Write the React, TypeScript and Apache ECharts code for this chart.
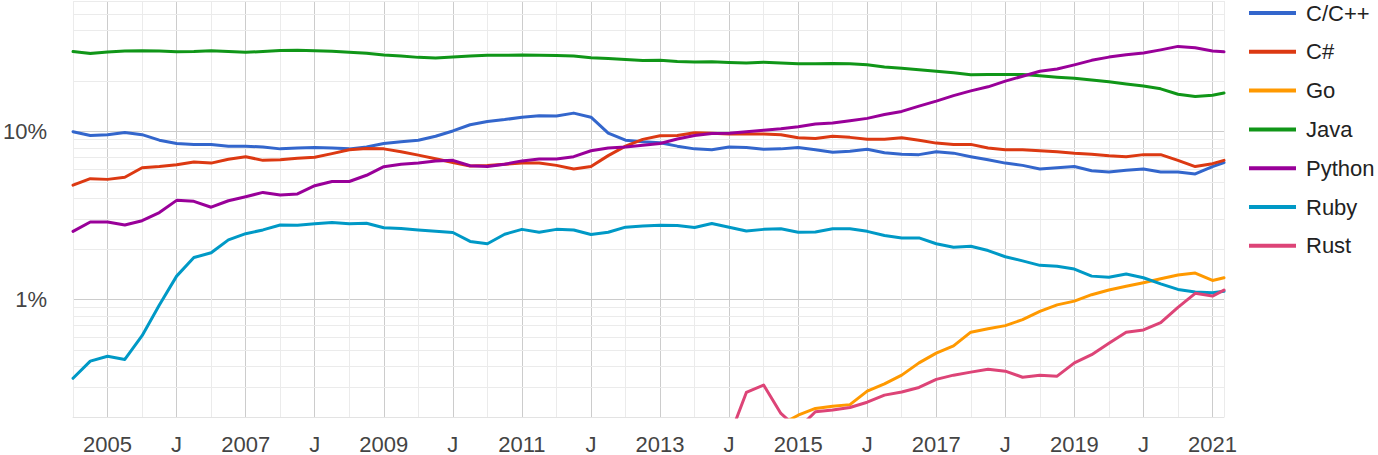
import React, { useEffect, useRef } from "react";
import * as echarts from "echarts";

// Quarterly sample dates (YYYY-MM), last point is March 2021
const months = [
  "2004-07", "2004-10",
  "2005-01", "2005-04", "2005-07", "2005-10",
  "2006-01", "2006-04", "2006-07", "2006-10",
  "2007-01", "2007-04", "2007-07", "2007-10",
  "2008-01", "2008-04", "2008-07", "2008-10",
  "2009-01", "2009-04", "2009-07", "2009-10",
  "2010-01", "2010-04", "2010-07", "2010-10",
  "2011-01", "2011-04", "2011-07", "2011-10",
  "2012-01", "2012-04", "2012-07", "2012-10",
  "2013-01", "2013-04", "2013-07", "2013-10",
  "2014-01", "2014-04", "2014-07", "2014-10",
  "2015-01", "2015-04", "2015-07", "2015-10",
  "2016-01", "2016-04", "2016-07", "2016-10",
  "2017-01", "2017-04", "2017-07", "2017-10",
  "2018-01", "2018-04", "2018-07", "2018-10",
  "2019-01", "2019-04", "2019-07", "2019-10",
  "2020-01", "2020-04", "2020-07", "2020-10",
  "2021-01", "2021-03",
];

const cpp = [
  10.0, 9.5, 9.6, 9.9, 9.6, 8.9, 8.5, 8.4, 8.4, 8.2,
  8.2, 8.1, 7.9, 8.0, 8.05, 8.0, 7.9, 8.1, 8.5, 8.7,
  8.9, 9.4, 10.1, 11.0, 11.5, 11.8, 12.2, 12.45, 12.4, 12.9,
  12.2, 9.8, 8.9, 8.7, 8.6, 8.2, 7.9, 7.8, 8.1, 8.05,
  7.85, 7.9, 8.05, 7.8, 7.55, 7.65, 7.85, 7.5, 7.35, 7.3,
  7.6, 7.45, 7.1, 6.8, 6.5, 6.3, 6.0, 6.1, 6.2, 5.85,
  5.75, 5.9, 6.0, 5.75, 5.75, 5.6, 6.2, 6.55,
];

const csharp = [
  4.8, 5.25, 5.2, 5.35, 6.1, 6.2, 6.35, 6.6, 6.5, 6.85,
  7.1, 6.75, 6.8, 6.95, 7.05, 7.4, 7.8, 7.95, 7.9, 7.6,
  7.25, 6.9, 6.55, 6.25, 6.3, 6.4, 6.5, 6.5, 6.3, 6.0,
  6.2, 7.2, 8.2, 9.0, 9.45, 9.5, 9.85, 9.8, 9.7, 9.7,
  9.7, 9.6, 9.2, 9.1, 9.4, 9.25, 9.0, 9.0, 9.2, 8.9,
  8.55, 8.4, 8.4, 8.0, 7.8, 7.8, 7.7, 7.6, 7.45, 7.35,
  7.2, 7.1, 7.3, 7.3, 6.75, 6.2, 6.45, 6.75,
];

const go = [
  null, null, null, null, null, null, null, null, null, null,
  null, null, null, null, null, null, null, null, null, null,
  null, null, null, null, null, null, null, null, null, null,
  null, null, null, null, null, null, null, null, null, null,
  null, 0.18, 0.205, 0.225, 0.232, 0.237, 0.285, 0.315, 0.355, 0.42,
  0.48, 0.53, 0.64, 0.67, 0.7, 0.76, 0.85, 0.93, 0.98, 1.07,
  1.14, 1.2, 1.26, 1.33, 1.4, 1.44, 1.3, 1.35,
];

const java = [
  30.0, 29.2, 29.8, 30.2, 30.3, 30.2, 29.9, 30.0, 30.3, 30.0,
  29.7, 30.0, 30.4, 30.5, 30.3, 30.1, 29.7, 29.3, 28.6, 28.2,
  27.7, 27.5, 27.8, 28.2, 28.5, 28.5, 28.6, 28.5, 28.4, 28.2,
  27.6, 27.3, 26.9, 26.5, 26.6, 26.2, 26.0, 26.1, 25.8, 25.6,
  25.9, 25.6, 25.4, 25.4, 25.5, 25.4, 25.0, 24.3, 23.9, 23.4,
  22.9, 22.4, 21.8, 21.9, 21.9, 21.9, 21.5, 21.1, 20.8, 20.3,
  19.8, 19.2, 18.7, 18.0, 16.7, 16.2, 16.5, 17.0,
];

const python = [
  2.55, 2.9, 2.9, 2.78, 2.95, 3.3, 3.9, 3.85, 3.55, 3.88,
  4.1, 4.35, 4.2, 4.26, 4.77, 5.05, 5.05, 5.5, 6.19, 6.4,
  6.5, 6.7, 6.75, 6.27, 6.2, 6.4, 6.7, 6.87, 6.87, 7.1,
  7.7, 8.0, 8.1, 8.3, 8.5, 9.05, 9.5, 9.75, 9.8, 10.0,
  10.2, 10.4, 10.7, 11.1, 11.25, 11.6, 12.0, 12.65, 13.2, 14.2,
  15.2, 16.4, 17.5, 18.5, 20.0, 21.4, 22.9, 23.6, 25.0, 26.6,
  27.8, 28.7, 29.4, 30.7, 32.2, 31.6, 30.2, 29.9,
];

const ruby = [
  0.34, 0.43, 0.46, 0.44, 0.61, 0.93, 1.38, 1.78, 1.9, 2.27,
  2.47, 2.6, 2.78, 2.77, 2.83, 2.88, 2.83, 2.85, 2.68, 2.65,
  2.6, 2.55, 2.51, 2.22, 2.15, 2.45, 2.62, 2.52, 2.62, 2.6,
  2.44, 2.52, 2.7, 2.74, 2.77, 2.76, 2.69, 2.84, 2.7, 2.56,
  2.62, 2.64, 2.52, 2.53, 2.64, 2.64, 2.55, 2.41, 2.33, 2.33,
  2.15, 2.05, 2.08, 1.96, 1.8, 1.7, 1.6, 1.58, 1.52, 1.38,
  1.36, 1.42, 1.35, 1.24, 1.15, 1.11, 1.1, 1.12,
];

const rust = [
  null, null, null, null, null, null, null, null, null, null,
  null, null, null, null, null, null, null, null, null, null,
  null, null, null, null, null, null, null, null, null, null,
  null, null, null, null, null, null, null, null, 0.15, 0.28,
  0.31, 0.21, 0.17, 0.215, 0.22, 0.228, 0.245, 0.27, 0.282, 0.3,
  0.335, 0.355, 0.37, 0.385, 0.375, 0.345, 0.355, 0.35, 0.42, 0.47,
  0.55, 0.64, 0.66, 0.73, 0.9, 1.09, 1.05, 1.14,
];

const seriesNames = ["C/C++", "C#", "Go", "Java", "Python", "Ruby", "Rust"];
const seriesValues = [cpp, csharp, go, java, python, ruby, rust];
const seriesColors = ["#3366cc", "#dc3912", "#ff9900", "#109618", "#990099", "#0099c6", "#dd4477"];

const xTickLabels = ["2005", "J", "2007", "J", "2009", "J", "2011", "J", "2013", "J", "2015", "J", "2017", "J", "2019", "J", "2021"];
const firstLabelYear = 2005;
const yTickLabels = [
  { value: 1, label: "1%" },
  { value: 10, label: "10%" },
];
const minorGridValues = [0.3, 0.4, 0.5, 0.6, 0.7, 0.8, 0.9, 2, 3, 4, 5, 6, 7, 8, 9, 20, 30, 40, 50, 60];

const FONT = "'Liberation Sans', Arial, sans-serif";

function toYear(m: string): number {
  const [y, mo] = m.split("-").map(Number);
  return y + (mo - 1) / 12;
}

export default function App() {
  const ref = useRef<HTMLDivElement>(null);

  useEffect(() => {
    if (!ref.current) return;
    const chart = echarts.init(ref.current, undefined, { renderer: "svg" });
    const xs = months.map(toYear);

    const series: any[] = [
      {
        name: "__grid",
        type: "line",
        data: [],
        z: 1,
        silent: true,
        markLine: {
          z: 1,
          silent: true,
          symbol: ["none", "none"],
          label: { show: false },
          lineStyle: { color: "#ebebeb", width: 1, type: "solid" },
          data: minorGridValues.map((v) => ({ yAxis: v })),
        },
      },
    ];
    seriesNames.forEach((name, i) => {
      series.push({
        name,
        type: "line",
        data: xs.map((x, k) => [x, seriesValues[i][k]]),
        showSymbol: false,
        symbol: "none",
        connectNulls: false,
        clip: true,
        z: 3,
        lineStyle: { color: seriesColors[i], width: 3, join: "round", cap: "round" },
        itemStyle: { color: seriesColors[i] },
      });
    });

    chart.setOption({
      animation: false,
      backgroundColor: "#ffffff",
      textStyle: { fontFamily: FONT },
      grid: { left: 71, right: 154, top: 1, bottom: 38, containLabel: false },
      legend: {
        orient: "vertical",
        left: 1249,
        top: 1,
        padding: 0,
        itemWidth: 47,
        itemHeight: 4,
        itemGap: 14.8,
        icon: "rect",
        selectedMode: false,
        data: seriesNames,
        textStyle: { fontSize: 22, color: "#222222", fontFamily: FONT, lineHeight: 24, padding: [0, 0, 0, 5] },
      },
      xAxis: {
        type: "value",
        min: 2004.5,
        max: toYear(months[months.length - 1]),
        interval: 0.5,
        axisLine: { show: true, lineStyle: { color: "#e3e3e3", width: 1 } },
        axisTick: { show: false },
        axisLabel: {
          color: "#444444",
          fontSize: 22,
          fontFamily: FONT,
          margin: 16,
          showMinLabel: true,
          showMaxLabel: true,
          formatter: (v: number) => {
            const k = Math.round(v);
            if (Math.abs(v - k) > 1e-6) return "";
            return xTickLabels[k - firstLabelYear] ?? "";
          },
        },
        splitLine: { show: true, lineStyle: { color: ["#ebebeb", "#cccccc"], width: 1 } },
      },
      yAxis: {
        type: "log",
        logBase: 10,
        min: 0.2,
        max: 60,
        axisLine: { show: false },
        axisTick: { show: false },
        axisLabel: {
          color: "#444444",
          fontSize: 22,
          fontFamily: FONT,
          margin: 26,
          formatter: (v: number) => {
            const t = yTickLabels.find((d) => Math.abs(v - d.value) < 1e-6 * d.value);
            return t ? t.label : "";
          },
        },
        splitLine: { show: true, showMinLine: false, showMaxLine: false, lineStyle: { color: "#cccccc", width: 1 } },
      },
      series,
    });

    return () => {
      chart.dispose();
    };
  }, []);

  return (
    <div
      ref={ref}
      style={{ position: "absolute", left: 0, top: 0, width: 1378, height: 455, background: "#fff" }}
    />
  );
}
